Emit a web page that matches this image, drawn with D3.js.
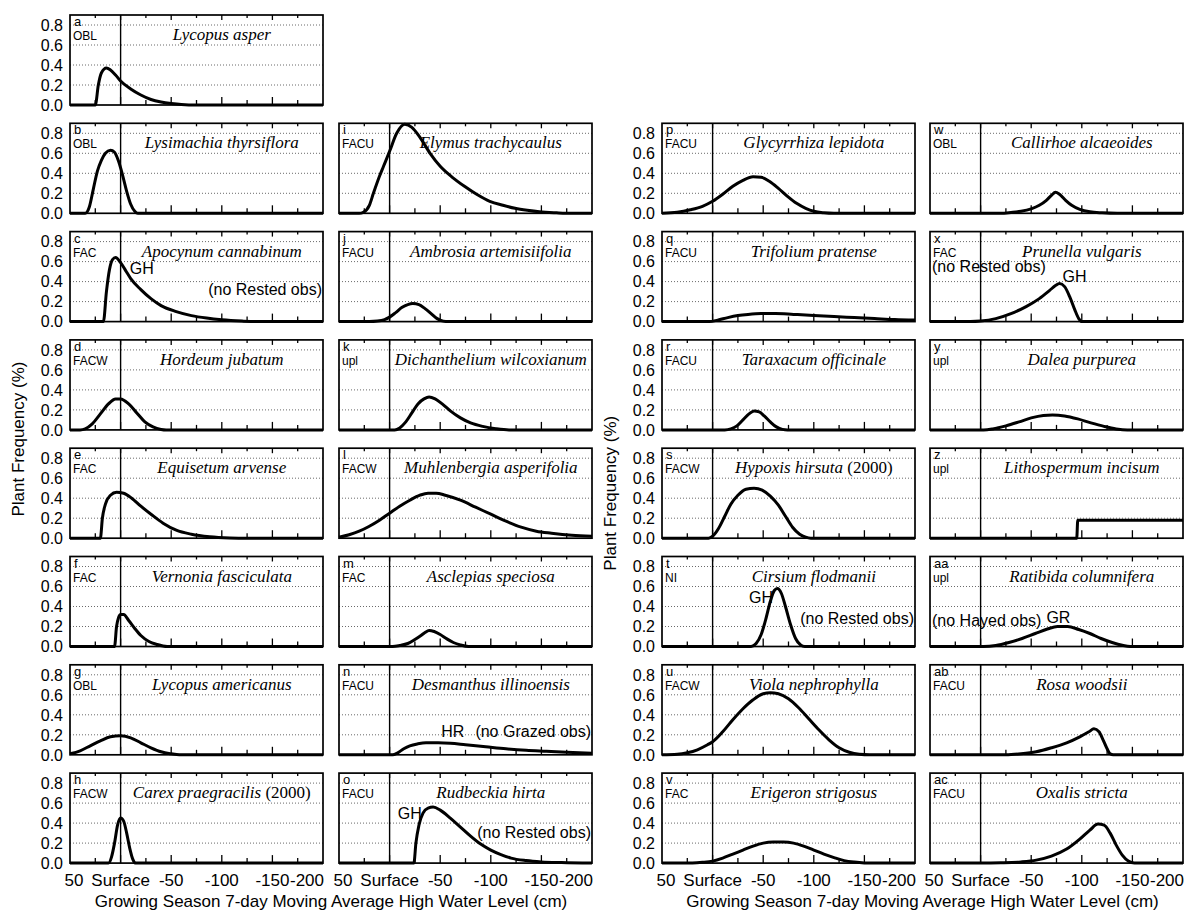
<!DOCTYPE html>
<html>
<head>
<meta charset="utf-8">
<title>Plant frequency vs water level</title>
<script src="https://d3js.org/d3.v7.min.js"></script>
<style>
  body { margin: 0; background: #fff; }
  text { font-family: "Liberation Sans", Arial, sans-serif; fill: #000; }
  .sp { font-family: "Liberation Serif", "Times New Roman", serif; font-style: italic; font-size: 17px; }
  .grid { stroke: #444; stroke-width: 0.8; stroke-dasharray: 1,2; }
</style>
</head>
<body>
<svg id="chart" width="1184" height="912"></svg>
<script>
// panel letters, wetland indicator codes and species names (a..ac)
const letters = ["a","b","c","d","e","f","g","h","i","j","k","l","m","n","o",
                 "p","q","r","s","t","u","v","w","x","y","z","aa","ab","ac"];
const indicators = ["OBL","OBL","FAC","FACW","FAC","FAC","OBL","FACW",
                    "FACU","FACU","upl","FACW","FAC","FACU","FACU",
                    "FACU","FACU","FACU","FACW","NI","FACW","FAC",
                    "OBL","FAC","upl","upl","upl","FACU","FACU"];
const species = ["Lycopus asper","Lysimachia thyrsiflora","Apocynum cannabinum","Hordeum jubatum",
                 "Equisetum arvense","Vernonia fasciculata","Lycopus americanus","Carex praegracilis",
                 "Elymus trachycaulus","Ambrosia artemisiifolia","Dichanthelium wilcoxianum",
                 "Muhlenbergia asperifolia","Asclepias speciosa","Desmanthus illinoensis","Rudbeckia hirta",
                 "Glycyrrhiza lepidota","Trifolium pratense","Taraxacum officinale","Hypoxis hirsuta",
                 "Cirsium flodmanii","Viola nephrophylla","Erigeron strigosus",
                 "Callirhoe alcaeoides","Prunella vulgaris","Dalea purpurea","Lithospermum incisum",
                 "Ratibida columnifera","Rosa woodsii","Oxalis stricta"];
const yearNotes = {7: "(2000)", 18: "(2000)"};

// curves: [water level cm, frequency]
const curveA = [[50,0],[25,0],[22,0.2],[19,0.32],[14,0.37],[10,0.35],[5,0.3],[0,0.24],[-10,0.16],[-20,0.1],[-30,0.055],[-40,0.03],[-50,0.015],[-60,0.005],[-75,0],[-200,0]];
const curveB = [[50,0],[35,0],[31,0.06],[27,0.24],[23,0.42],[19,0.53],[15,0.6],[10,0.63],[6,0.61],[2,0.52],[-2,0.38],[-6,0.22],[-10,0.09],[-14,0.02],[-17,0],[-200,0]];
const curveC = [[50,0],[17,0],[14,0.3],[11,0.52],[8,0.62],[5,0.64],[0,0.59],[-5,0.51],[-10,0.43],[-20,0.32],[-30,0.23],[-40,0.16],[-55,0.1],[-70,0.06],[-85,0.035],[-100,0.018],[-120,0.005],[-135,0],[-200,0]];
const curveD = [[50,0],[40,0],[35,0.01],[28,0.06],[20,0.16],[12,0.26],[5,0.31],[0,0.31],[-8,0.26],[-16,0.17],[-24,0.08],[-32,0.03],[-40,0.005],[-45,0],[-200,0]];
const curveE = [[50,0],[20,0],[18,0.2],[15,0.34],[10,0.43],[4,0.46],[-3,0.45],[-11,0.4],[-20,0.32],[-30,0.24],[-42,0.15],[-55,0.08],[-70,0.04],[-88,0.015],[-108,0.003],[-125,0],[-200,0]];
const curveF = [[50,0],[6,0],[4,0.2],[2,0.29],[0,0.32],[-3,0.32],[-8,0.26],[-14,0.18],[-20,0.11],[-28,0.05],[-36,0.02],[-46,0],[-200,0]];
const curveG = [[50,0.01],[40,0.04],[30,0.09],[20,0.14],[10,0.18],[0,0.19],[-10,0.17],[-20,0.12],[-30,0.07],[-40,0.03],[-50,0.01],[-58,0],[-200,0]];
const curveH = [[50,0],[12,0],[9,0.06],[6,0.2],[3,0.38],[0,0.45],[-3,0.42],[-6,0.3],[-9,0.15],[-12,0.04],[-15,0],[-200,0]];
const curveI = [[50,0],[30,0],[26,0.01],[20,0.08],[16,0.2],[10,0.37],[6,0.47],[0,0.62],[-7,0.8],[-15,0.89],[-22,0.86],[-30,0.76],[-40,0.6],[-50,0.47],[-62,0.36],[-74,0.27],[-86,0.19],[-99,0.12],[-112,0.08],[-124,0.05],[-136,0.03],[-148,0.015],[-165,0.005],[-180,0],[-200,0]];
const curveJ = [[50,0],[20,0],[12,0.005],[5,0.02],[0,0.045],[-6,0.09],[-12,0.14],[-18,0.17],[-23,0.18],[-29,0.17],[-35,0.13],[-41,0.08],[-47,0.03],[-53,0.005],[-58,0],[-200,0]];
const curveK = [[50,0],[-5,0],[-10,0.02],[-16,0.08],[-22,0.17],[-28,0.26],[-34,0.31],[-39,0.33],[-45,0.31],[-52,0.26],[-60,0.19],[-70,0.12],[-80,0.07],[-92,0.035],[-105,0.012],[-118,0],[-200,0]];
const curveL = [[50,0.01],[40,0.035],[30,0.07],[20,0.12],[10,0.18],[0,0.25],[-10,0.32],[-20,0.38],[-30,0.43],[-38,0.45],[-46,0.45],[-55,0.43],[-70,0.38],[-85,0.31],[-100,0.24],[-115,0.17],[-130,0.11],[-145,0.07],[-160,0.05],[-180,0.03],[-200,0.02]];
const curveM = [[50,0],[-3,0],[-10,0.01],[-18,0.03],[-25,0.07],[-31,0.11],[-35,0.14],[-39,0.16],[-44,0.15],[-50,0.12],[-56,0.08],[-63,0.04],[-70,0.015],[-78,0],[-200,0]];
const curveN = [[50,0],[-3,0],[-8,0.02],[-14,0.06],[-20,0.09],[-28,0.11],[-36,0.12],[-48,0.12],[-60,0.115],[-75,0.1],[-95,0.08],[-115,0.06],[-135,0.045],[-155,0.035],[-175,0.025],[-200,0.015]];
const curveO = [[50,0],[-24,0],[-26,0.2],[-29,0.38],[-33,0.5],[-38,0.55],[-43,0.56],[-50,0.53],[-60,0.45],[-70,0.36],[-80,0.27],[-90,0.19],[-100,0.13],[-110,0.085],[-120,0.05],[-135,0.025],[-150,0.012],[-170,0.005],[-200,0]];
const curveP = [[50,0],[35,0.01],[22,0.035],[10,0.07],[0,0.12],[-10,0.19],[-20,0.27],[-30,0.33],[-40,0.365],[-48,0.36],[-56,0.32],[-65,0.25],[-74,0.17],[-83,0.1],[-92,0.05],[-100,0.02],[-110,0.005],[-120,0],[-200,0]];
const curveQ = [[50,0],[3,0],[-5,0.015],[-15,0.04],[-25,0.06],[-35,0.072],[-48,0.08],[-62,0.08],[-80,0.072],[-100,0.062],[-120,0.05],[-140,0.04],[-160,0.03],[-180,0.02],[-200,0.015]];
const curveR = [[50,0],[-12,0],[-18,0.01],[-24,0.04],[-30,0.1],[-36,0.16],[-41,0.19],[-46,0.18],[-51,0.14],[-57,0.08],[-63,0.03],[-69,0.005],[-74,0],[-200,0]];
const curveS = [[50,0],[4,0],[0,0.02],[-6,0.1],[-12,0.22],[-18,0.34],[-25,0.43],[-33,0.49],[-41,0.5],[-49,0.48],[-57,0.42],[-65,0.33],[-72,0.22],[-79,0.11],[-86,0.04],[-92,0.01],[-97,0],[-200,0]];
const curveT = [[50,0],[-38,0],[-43,0.03],[-48,0.12],[-53,0.29],[-57,0.45],[-61,0.56],[-64,0.58],[-68,0.53],[-72,0.4],[-77,0.22],[-82,0.08],[-87,0.015],[-91,0],[-200,0]];
const curveU = [[50,0],[35,0.005],[25,0.02],[15,0.05],[5,0.1],[0,0.13],[-10,0.23],[-20,0.35],[-30,0.46],[-40,0.55],[-50,0.61],[-57,0.62],[-65,0.61],[-75,0.56],[-85,0.47],[-95,0.36],[-105,0.25],[-115,0.15],[-125,0.07],[-135,0.025],[-145,0.005],[-155,0],[-200,0]];
const curveV = [[50,0],[20,0.002],[10,0.008],[0,0.02],[-10,0.05],[-20,0.09],[-30,0.13],[-40,0.17],[-50,0.2],[-60,0.21],[-70,0.21],[-80,0.2],[-90,0.17],[-100,0.13],[-110,0.09],[-120,0.055],[-130,0.025],[-140,0.01],[-150,0.002],[-160,0],[-200,0]];
const curveW = [[50,0],[-20,0],[-30,0.008],[-40,0.02],[-50,0.045],[-58,0.08],[-65,0.13],[-70,0.18],[-74,0.21],[-78,0.19],[-84,0.13],[-90,0.08],[-98,0.04],[-108,0.015],[-120,0.005],[-135,0],[-200,0]];
const curveX = [[50,0],[10,0],[0,0.005],[-15,0.03],[-30,0.08],[-45,0.15],[-58,0.23],[-68,0.31],[-74,0.36],[-78,0.38],[-83,0.35],[-88,0.25],[-93,0.12],[-97,0.03],[-100,0],[-200,0]];
const curveY = [[50,0],[-3,0],[-12,0.01],[-25,0.04],[-38,0.08],[-50,0.12],[-62,0.145],[-71,0.15],[-83,0.14],[-96,0.11],[-109,0.07],[-122,0.035],[-134,0.01],[-145,0],[-200,0]];
const curveZ = [[50,0],[-95,0],[-96,0.18],[-200,0.18]];
const curveAA = [[50,0],[-3,0],[-15,0.01],[-28,0.04],[-41,0.08],[-54,0.13],[-66,0.175],[-76,0.2],[-86,0.2],[-97,0.17],[-108,0.13],[-119,0.08],[-130,0.04],[-140,0.012],[-148,0],[-200,0]];
const curveAB = [[50,0],[-25,0],[-40,0.01],[-55,0.03],[-70,0.07],[-85,0.12],[-98,0.18],[-107,0.23],[-112,0.26],[-117,0.23],[-121,0.15],[-125,0.06],[-128,0.01],[-131,0],[-200,0]];
const curveAC = [[50,0],[0,0],[-20,0.003],[-40,0.012],[-55,0.03],[-70,0.07],[-85,0.14],[-98,0.24],[-108,0.33],[-116,0.39],[-122,0.38],[-128,0.3],[-134,0.18],[-140,0.08],[-146,0.02],[-152,0],[-200,0]];

const curves = [curveA,curveB,curveC,curveD,curveE,curveF,curveG,curveH,
                curveI,curveJ,curveK,curveL,curveM,curveN,curveO,
                curveP,curveQ,curveR,curveS,curveT,curveU,curveV,
                curveW,curveX,curveY,curveZ,curveAA,curveAB,curveAC];

// in-panel notes: panel index, text, cm (50 = left edge, -200 = right edge), value
const notes = [
  [2, "GH", -9, 0.53], [2, "(no Rested obs)", -200, 0.32],
  [13, "HR", -51, 0.24], [13, "(no Grazed obs)", -200, 0.24],
  [14, "GH", -8, 0.5], [14, "(no Rested obs)", -200, 0.31],
  [19, "GH", -36, 0.49], [19, "(no Rested obs)", -200, 0.28],
  [23, "(no Rested obs)", 50, 0.55], [23, "GH", -81, 0.45],
  [26, "(no Hayed obs)", 50, 0.26], [26, "GR", -65, 0.29]
];

const yTicks = [0, 0.2, 0.4, 0.6, 0.8];
const yTickLabels = ["0.0","0.2","0.4","0.6","0.8"];
const xTicks = d3.range(50, -201, -25);
const xLabelVals = [50, 0, -50, -100, -150, -200];
const xLabelText = ["50","Surface","-50","-100","-150","-200"];

// layout
const colLeft = [70, 339, 662, 930];
const panelW = 253, panelH = 90, rowStep = 108.3, top0 = 15;
const colStart = [0, 8, 15, 22];   // first panel index of each column
const colRow0 = [0, 1, 1, 1];      // first row of each column

const svg = d3.select("#chart");
const line = d3.line().curve(d3.curveMonotoneX);

curves.forEach((data, i) => {
  let col = 0;
  for (let c = 0; c < 4; c++) if (i >= colStart[c]) col = c;
  const row = colRow0[col] + (i - colStart[col]);
  const left = colLeft[col], top = top0 + row * rowStep;

  const x = d3.scaleLinear().domain([50, -200]).range([left, left + panelW]);
  const y = d3.scaleLinear().domain([0, 0.9]).range([top + panelH, top]);
  const g = svg.append("g");

  // dotted grid
  g.selectAll(".grid").data(yTicks.slice(1)).enter().append("line")
    .attr("class", "grid")
    .attr("x1", left).attr("x2", left + panelW)
    .attr("y1", d => y(d)).attr("y2", d => y(d));

  // surface line
  g.append("line")
    .attr("x1", x(0)).attr("x2", x(0))
    .attr("y1", top).attr("y2", top + panelH)
    .style("stroke", "#000").style("stroke-width", 1.4);

  // frame
  g.append("rect")
    .attr("x", left).attr("y", top).attr("width", panelW).attr("height", panelH)
    .style("fill", "none").style("stroke", "#000").style("stroke-width", 1.7);

  // ticks top and bottom
  g.selectAll(".tb").data(xTicks.slice(1, -1)).enter().append("line")
    .attr("x1", d => x(d)).attr("x2", d => x(d))
    .attr("y1", top + panelH).attr("y2", d => top + panelH - (d % 50 === 0 ? 8 : 5))
    .style("stroke", "#000").style("stroke-width", 1.3);
  g.selectAll(".tt").data(xTicks.slice(1, -1)).enter().append("line")
    .attr("x1", d => x(d)).attr("x2", d => x(d))
    .attr("y1", top).attr("y2", d => top + (d % 50 === 0 ? 5 : 3))
    .style("stroke", "#000").style("stroke-width", 1.3);

  // curve
  g.append("path")
    .datum(data)
    .attr("d", line.x(d => x(d[0])).y(d => y(d[1])))
    .style("fill", "none").style("stroke", "#000")
    .style("stroke-width", 3).style("stroke-linejoin", "round");

  // letter + indicator
  g.append("text").attr("x", left + 4).attr("y", top + 11)
    .style("font-size", "13px").text(letters[i]);
  g.append("text").attr("x", left + 3).attr("y", top + 25)
    .style("font-size", "12px").text(indicators[i]);

  // species
  const st = g.append("text").attr("class", "sp")
    .attr("x", (x(0) + left + panelW) / 2).attr("y", top + 25)
    .attr("text-anchor", "middle").text(species[i]);
  if (yearNotes[i]) {
    st.append("tspan").style("font-style", "normal").text(" " + yearNotes[i]);
  }

  // y tick labels on columns 1 and 3
  if (col === 0 || col === 2) {
    g.selectAll(".yl").data(yTicks).enter().append("text")
      .attr("x", left - 7).attr("y", d => y(d)).attr("dy", "0.36em")
      .attr("text-anchor", "end").style("font-size", "16px")
      .text((d, k) => yTickLabels[k]);
  }

  // x tick labels on bottom row
  if (row === 7) {
    g.selectAll(".xl").data(xLabelVals).enter().append("text")
      .attr("x", (d, k) => k === 0 ? x(d) + 4 : (k === 5 ? x(d) + 1 : x(d)))
      .attr("y", top + panelH + 23)
      .attr("text-anchor", (d, k) => k === 5 ? "end" : "middle")
      .style("font-size", "17px")
      .text((d, k) => xLabelText[k]);
  }

  // notes
  notes.filter(n => n[0] === i).forEach(n => {
    const anchor = n[2] === -200 ? "end" : "start";
    const px = n[2] === -200 ? x(n[2]) - 1 : (n[2] === 50 ? x(n[2]) + 2 : x(n[2]));
    g.append("text").attr("x", px).attr("y", y(n[3])).attr("dy", "0.36em")
      .attr("text-anchor", anchor).style("font-size", "16px").text(n[1]);
  });
});

// axis titles
const bottomY = top0 + 7 * rowStep + panelH;
[[colLeft[0], colLeft[1] + panelW], [colLeft[2], colLeft[3] + panelW]].forEach(r => {
  svg.append("text").attr("x", (r[0] + r[1]) / 2).attr("y", bottomY + 44)
    .attr("text-anchor", "middle").style("font-size", "17px")
    .text("Growing Season 7-day Moving Average High Water Level (cm)");
});
[[18, top0, bottomY], [610, top0 + rowStep, bottomY]].forEach(r => {
  const cy = (r[1] + r[2]) / 2;
  svg.append("text").attr("transform", "translate(" + r[0] + "," + cy + ")rotate(-90)")
    .attr("dy", "0.36em").attr("text-anchor", "middle").style("font-size", "17px")
    .text("Plant Frequency (%)");
});
</script>
</body>
</html>
